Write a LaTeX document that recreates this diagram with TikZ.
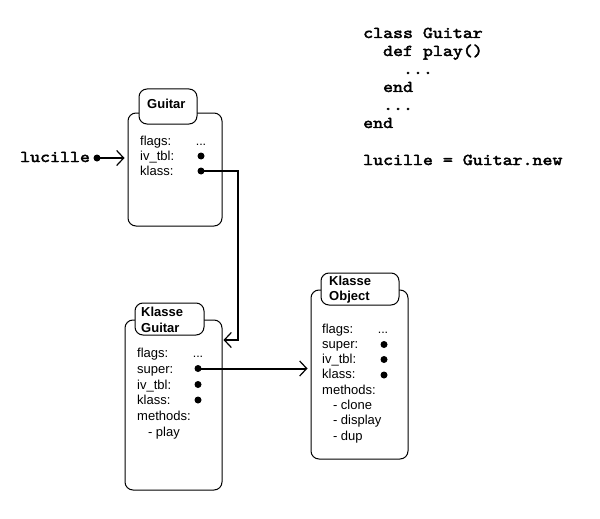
\documentclass[tikz,border=0pt]{standalone}
\usepackage{fontspec}
\setmainfont{Liberation Sans}
\newfontfamily\codefont[FakeBold=2.5,FakeStretch=1.15]{lmmono10-regular.otf}
\usetikzlibrary{arrows.meta}
\begin{document}
\begin{tikzpicture}[x=1pt,y=-1pt,
  box/.style={draw,line width=1pt,rounded corners=8pt,fill=white,inner sep=0pt},
  tab/.style={draw,line width=1pt,rounded corners=8pt,fill=white,inner sep=0pt},
  lbl/.style={anchor=base west,inner sep=0pt,font=\fontsize{13}{14}\selectfont},
  ttl/.style={anchor=base west,inner sep=0pt,font=\fontsize{13}{14}\selectfont\bfseries},
  code/.style={anchor=base west,inner sep=0pt,font=\fontsize{16.5}{18}\selectfont\codefont},
  ptr/.style={circle,fill=black,inner sep=0pt,minimum size=7pt},
  etc/.style={anchor=base,inner sep=0pt,font=\fontsize{12.5}{14}\selectfont},
  conn/.style={line width=2pt,-{Straight Barb[length=7pt,width=15pt,line width=1.2pt]}}
]
\useasboundingbox[fill=white] (0,0) rectangle (600,519);

% code
\node[code] (c1) at (363,38) {class Guitar};
\node[code] (c2) at (363,56) {\ \ def play()};
\node[code] (c3) at (363,74) {\ \ \ \ ...};
\node[code] (c4) at (363,92) {\ \ end};
\node[code] (c5) at (363,110) {\ \ ...};
\node[code] (c6) at (363,128) {end};
\node[code] (c7) at (363,165) {lucille = Guitar.new};

% Guitar object
\node[box,minimum width=94pt,minimum height=113pt] (gbox) at (175,169.5) {};
\node[tab,minimum width=58pt,minimum height=35pt] (gtab) at (168,106.5) {};
\node[ttl] (gt) at (147,108) {Guitar};
\node[lbl] (g1) at (140,145) {flags:};
\node[lbl] (g2) at (140,160) {iv\_tbl:};
\node[lbl] (g3) at (140,175) {klass:};
\node[etc] (g1v) at (201,145) {...};
\node[ptr] (gdot2) at (201,156) {};
\node[ptr] (gdot3) at (201,171) {};

% lucille
\node[code] (luc) at (20,162) {lucille};
\node[ptr] (ldot) at (97,158) {};

% Klasse Guitar
\node[box,minimum width=97pt,minimum height=170pt] (kgbox) at (173.5,405) {};
\node[tab,minimum width=69pt,minimum height=32pt] (kgtab) at (169.5,319) {};
\node[ttl] (kgt1) at (141,316.5) {Klasse};
\node[ttl] (kgt2) at (141,332) {Guitar};
\node[lbl] (k1) at (137,357) {flags:};
\node[lbl] (k2) at (137,373) {super:};
\node[lbl] (k3) at (137,389) {iv\_tbl:};
\node[lbl] (k4) at (137,404.5) {klass:};
\node[lbl] (k5) at (137,420) {methods:};
\node[lbl] (k6) at (137,436) {\ \ \ - play};
\node[etc] (k1v) at (198,357) {...};
\node[ptr] (kdot2) at (198,368.5) {};
\node[ptr] (kdot3) at (198,384.5) {};
\node[ptr] (kdot4) at (198,400) {};

% Klasse Object
\node[box,minimum width=97pt,minimum height=169pt] (kobox) at (359.5,374.5) {};
\node[tab,minimum width=78pt,minimum height=32pt] (kotab) at (360,289) {};
\node[ttl] (kot1) at (329,285) {Klasse};
\node[ttl] (kot2) at (329,300) {Object};
\node[lbl] (o1) at (322,333) {flags:};
\node[lbl] (o2) at (322,348.3) {super:};
\node[lbl] (o3) at (322,363.6) {iv\_tbl:};
\node[lbl] (o4) at (322,378.9) {klass:};
\node[lbl] (o5) at (322,394.2) {methods:};
\node[lbl] (o6) at (322,409.5) {\ \ \ - clone};
\node[lbl] (o7) at (322,424.8) {\ \ \ - display};
\node[lbl] (o8) at (322,440.1) {\ \ \ - dup};
\node[etc] (o1v) at (383,333) {...};
\node[ptr] (odot2) at (384,344.5) {};
\node[ptr] (odot3) at (384,359.5) {};
\node[ptr] (odot4) at (384,375) {};

% connectors
\coordinate (bend) at (238,340);
\draw[conn] (ldot.center) -- ([xshift=-3pt]gbox.west |- ldot);
\draw[conn] (gdot3.center) -| (bend) -- ([xshift=1pt]kgbox.east |- bend);
\draw[conn] (kdot2.center) -- ([xshift=-3pt]kobox.west |- kdot2);
\end{tikzpicture}
\end{document}
